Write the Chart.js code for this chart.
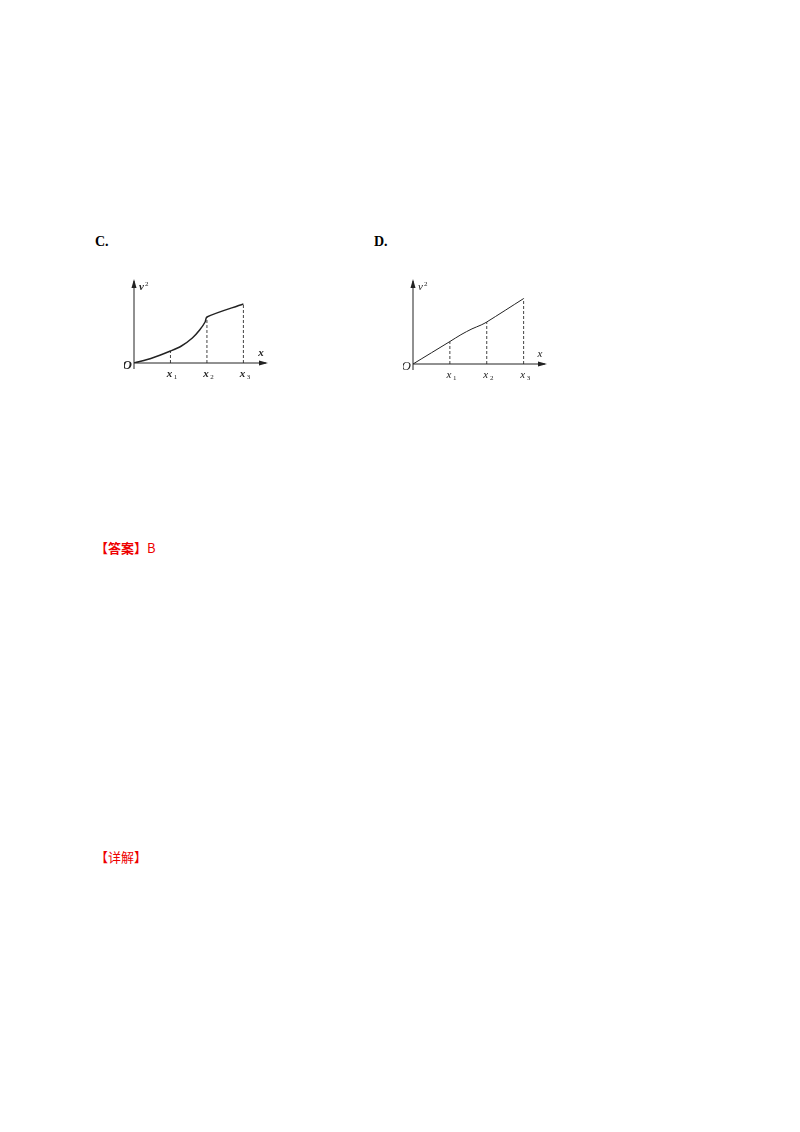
<!DOCTYPE html>
<html><head><meta charset="utf-8">
<script src="https://cdn.jsdelivr.net/npm/chart.js@4/dist/chart.umd.min.js"></script>
<style>
body{margin:0;background:#fff;width:800px;height:1132px;position:relative;font-family:"Liberation Serif",serif}
.t{position:absolute;font-size:14px}
.box{position:absolute}
</style></head><body>
<div class="t" style="left:95px;top:234px;font-weight:bold">C.</div>
<div class="t" style="left:374px;top:234px;font-weight:bold">D.</div>
<div class="t" style="left:95px;top:538px;color:#e00;font-family:'Noto Sans CJK SC';font-size:13px"><b>【答案】</b>B</div>
<div class="t" style="left:95px;top:847px;color:#e00;font-family:'Noto Sans CJK SC';font-size:13px">【详解】</div>
<div class="box" style="left:124px;top:275px;width:150px;height:110px"><canvas id="cC"></canvas></div>
<div class="box" style="left:403px;top:275px;width:150px;height:111px"><canvas id="cD"></canvas></div>
<script>
// chart C curve (x in units of x1, y in arbitrary v^2 units)
const curveCx = [0, 0.5, 1, 1.3, 1.6, 1.8, 1.95, 2, 3];
const curveCy = [0, 5, 12, 17, 25, 33, 41, 46, 59];
// chart D curve
const curveDx = [0, 1, 1.3, 1.6, 1.85, 2, 3];
const curveDy = [0, 23, 30, 36, 40, 43, 67];
const tickX = [1, 2, 3];
const tickLabels = ["x", "x", "x"];
const tickSubs = ["1", "2", "3"];

function pts(xs, ys){ return xs.map((x,i)=>({x:x, y:ys[i]})); }
function yAt(xs, ys, x){ return ys[xs.indexOf(x)]; }

function makeChart(id, xs, ys, xmax, ymax, bold, lw){
  const ds = [{data: pts(xs, ys), showLine:true, borderColor:"#222", borderWidth:lw, pointRadius:0, tension:0.3}];
  tickX.forEach(t => ds.push({data:[{x:t,y:0},{x:t,y:yAt(xs,ys,t)}], showLine:true, borderColor:"#444",
    borderWidth:1, borderDash:[3,2], pointRadius:0}));
  const axes = {
    id:"axes",
    afterDraw(chart){
      const c = chart.ctx, xs_ = chart.scales.x, ys_ = chart.scales.y;
      const ox = xs_.getPixelForValue(0), oy = ys_.getPixelForValue(0);
      const ex = xs_.getPixelForValue(xmax), ty = ys_.getPixelForValue(ymax);
      c.save(); c.strokeStyle="#222"; c.fillStyle="#222"; c.lineWidth=1;
      c.beginPath(); c.moveTo(ox, oy+6); c.lineTo(ox, ty); c.moveTo(ox, oy); c.lineTo(ex, oy); c.stroke();
      c.beginPath(); c.moveTo(ox, ty-2); c.lineTo(ox-2.5, ty+7); c.lineTo(ox+2.5, ty+7); c.fill();
      c.beginPath(); c.moveTo(ex+2, oy); c.lineTo(ex-7, oy-2.5); c.lineTo(ex-7, oy+2.5); c.fill();
      const f = (bold?"bold ":"")+"italic ";
      c.font = f+"13px 'Liberation Serif'"; c.textBaseline="middle"; c.textAlign="right";
      c.fillText("O", ox-2, oy+3);
      c.font = f+"11px 'Liberation Serif'"; c.textAlign="left";
      c.fillText("v", ox+5, ty+6);
      c.font = "7px 'Liberation Serif'"; c.fillText("2", ox+11, ty+3);
      c.font = f+"11px 'Liberation Serif'"; c.textAlign="center";
      c.fillText("x", ex-5, oy-10);
      tickX.forEach((t,i)=>{
        const px = xs_.getPixelForValue(t);
        c.font = f+"11px 'Liberation Serif'"; c.textAlign="center";
        c.fillText(tickLabels[i], px-1, oy+11);
        c.font = "7px 'Liberation Serif'"; c.fillText(tickSubs[i], px+5, oy+14);
      });
      c.restore();
    }
  };
  new Chart(document.getElementById(id), {
    type:"scatter",
    data:{datasets:ds},
    options:{responsive:true, maintainAspectRatio:false, animation:false, events:[],
      layout:{padding:{left:10, right:8, top:6, bottom:22}},
      plugins:{legend:{display:false}, tooltip:{enabled:false}},
      scales:{x:{display:false, min:0, max:xmax}, y:{display:false, min:0, max:ymax}}},
    plugins:[axes]
  });
}
makeChart("cC", curveCx, curveCy, 3.62, 82, true, 1.5);
makeChart("cD", curveDx, curveDy, 3.58, 85, false, 1);
</script></body></html>
